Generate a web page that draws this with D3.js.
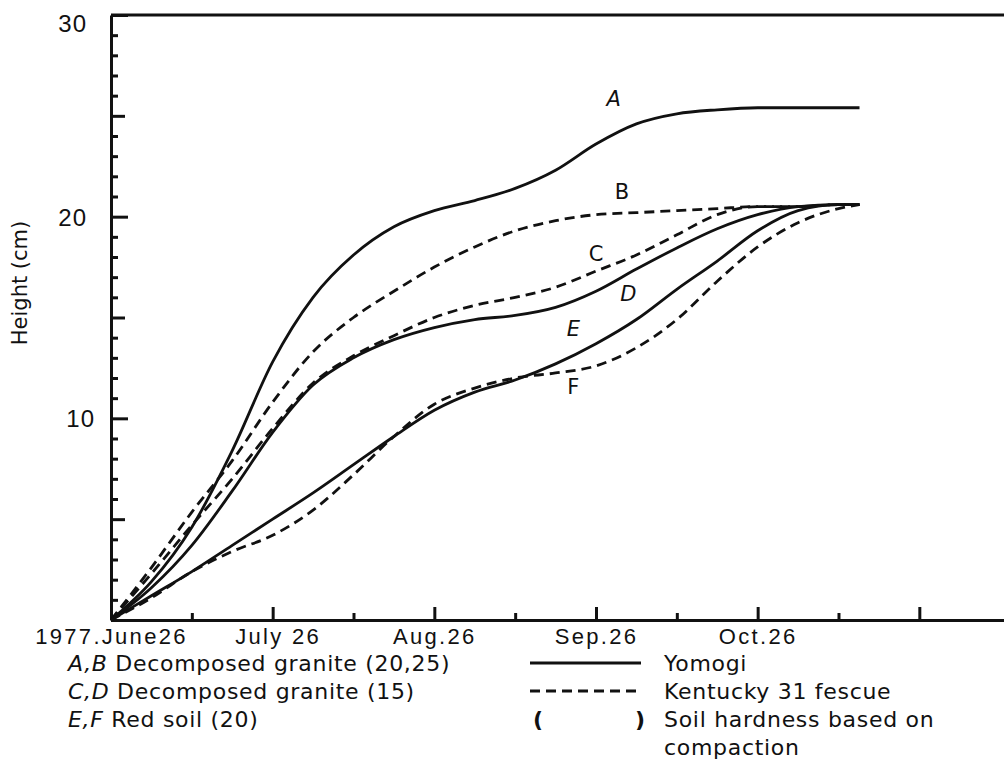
<!DOCTYPE html>
<html>
<head>
<meta charset="utf-8">
<script src="https://cdn.jsdelivr.net/npm/d3@7"></script>
<style>
  body { margin: 0; background: #fff; }
  svg { display: block; font-family: "DejaVu Sans", sans-serif; }
  .axis path, .axis line { stroke: #111; stroke-width: 3; }
  .axis text { fill: #111; font-size: 22px; letter-spacing: 2.3px; }
</style>
</head>
<body>
<script>
// months after 1977 June 26
const months = [0, 0.25, 0.5, 0.75, 1, 1.25, 1.5, 1.75, 2, 2.25, 2.5, 2.75, 3, 3.25, 3.5, 3.75, 4, 4.25, 4.5, 4.63];

// plant height (cm)
const heightA = [0, 1.9, 4.6, 8.4, 12.8, 16.0, 18.1, 19.5, 20.3, 20.8, 21.4, 22.3, 23.6, 24.6, 25.1, 25.3, 25.4, 25.4, 25.4, 25.4];
const heightB = [0, 2.6, 5.35, 7.9, 10.8, 13.3, 15.0, 16.3, 17.5, 18.5, 19.3, 19.8, 20.1, 20.2, 20.3, 20.4, 20.5, 20.5, 20.6, 20.6];
const heightC = [0, 2.3, 4.7, 7.0, 9.5, 11.75, 13.1, 14.1, 15.0, 15.6, 16.0, 16.5, 17.3, 18.1, 19.1, 20.1, 20.5, 20.5, 20.6, 20.6];
const heightD = [0, 1.6, 3.7, 6.4, 9.3, 11.65, 13.0, 13.9, 14.5, 14.9, 15.1, 15.5, 16.3, 17.4, 18.45, 19.4, 20.1, 20.5, 20.6, 20.6];
const heightE = [0, 1.2, 2.4, 3.7, 5.0, 6.3, 7.7, 9.1, 10.4, 11.3, 11.9, 12.7, 13.7, 14.9, 16.4, 17.8, 19.3, 20.3, 20.6, 20.6];
const heightF = [0, 1.1, 2.4, 3.4, 4.2, 5.45, 7.2, 9.1, 10.7, 11.5, 12.0, 12.25, 12.6, 13.5, 14.9, 16.8, 18.5, 19.7, 20.4, 20.6];

const curveNames = ["A", "B", "C", "D", "E", "F"];
const curveDashed = [false, true, true, false, false, true];

const monthLabels = ["1977.June26", "July 26", "Aug.26", "Sep.26", "Oct.26", ""];
const heightLabels = ["", "10", "20", "30"];

const legendSoils = [
  ["A,B", " Decomposed granite (20,25)"],
  ["C,D", " Decomposed granite (15)"],
  ["E,F", " Red soil (20)"]
];
const legendPlants = ["Yomogi", "Kentucky 31 fescue", "Soil hardness based on", "compaction"];

const W = 1004, H = 772;
const svg = d3.select("body").append("svg").attr("width", W).attr("height", H);

const x = d3.scaleLinear().domain([0, 5.53]).range([111, 1005]);
const y = d3.scaleLinear().domain([0, 30]).range([620, 15]);

// top frame line
svg.append("line")
  .attr("x1", x(0)).attr("x2", W)
  .attr("y1", y(30)).attr("y2", y(30))
  .attr("stroke", "#111").attr("stroke-width", 3);

// x axis: minor half-month ticks, then month ticks with labels
svg.append("g").attr("class", "axis")
  .attr("transform", "translate(0," + y(0) + ")")
  .call(d3.axisBottom(x).tickValues([0.5, 1.5, 2.5, 3.5, 4.5])
    .tickSizeInner(-7).tickSizeOuter(0).tickFormat(""));
const gx = svg.append("g").attr("class", "axis")
  .attr("transform", "translate(0," + y(0) + ")")
  .call(d3.axisBottom(x).tickValues([0, 1, 2, 3, 4, 5])
    .tickSizeInner(-13).tickSizeOuter(0).tickPadding(8)
    .tickFormat((d, i) => monthLabels[i]));
gx.selectAll(".tick text").attr("dx", (d) => (d === 1 ? 5 : 0));

// y axis: ticks point inward
const gy = svg.append("g").attr("class", "axis")
  .attr("transform", "translate(" + x(0) + ",0)")
  .call(d3.axisLeft(y).tickValues(d3.range(0, 31))
    .tickSizeOuter(0).tickPadding(18)
    .tickFormat((d) => (d % 10 === 0 ? heightLabels[d / 10] : "")));
gy.selectAll(".tick line")
  .attr("x2", (d) => (d % 10 === 0 ? 17 : d % 5 === 0 ? 14 : 7));
gy.selectAll(".tick text")
  .style("font-size", "24px")
  .style("letter-spacing", "1px")
  .attr("dy", (d) => (d === 30 ? "0.7em" : "0.35em"))
  .attr("dx", (d) => (d === 10 ? 8 : 0));

// y axis title
svg.append("text")
  .attr("transform", "translate(27,283) rotate(-90)")
  .attr("text-anchor", "middle")
  .attr("font-size", 21)
  .attr("fill", "#111")
  .text("Height (cm)");

// growth curves
const series = [heightA, heightB, heightC, heightD, heightE, heightF];
const line = d3.line()
  .x((d, i) => x(months[i]))
  .y((d) => y(d))
  .curve(d3.curveMonotoneX);

svg.append("g").selectAll("path")
  .data(series)
  .join("path")
  .attr("d", line)
  .attr("fill", "none")
  .attr("stroke", "#111")
  .attr("stroke-width", 2.8)
  .attr("stroke-dasharray", (d, i) => (curveDashed[i] ? "10,6" : null));

// curve letters
const letterPos = [[3.11, 25.5, true], [3.16, 20.9, false], [3.0, 17.8, false], [3.2, 15.8, true], [2.86, 14.1, true], [2.86, 11.2, false]];
svg.append("g").selectAll("text")
  .data(curveNames)
  .join("text")
  .attr("x", (d, i) => x(letterPos[i][0]))
  .attr("y", (d, i) => y(letterPos[i][1]))
  .attr("text-anchor", "middle")
  .attr("font-size", 21)
  .attr("font-style", (d, i) => (letterPos[i][2] ? "italic" : "normal"))
  .attr("fill", "#111")
  .text((d) => d);

// legend, left column
const rowY = [671, 699, 727, 755];
const leg = svg.append("g").attr("font-size", 22).attr("fill", "#111")
  .style("letter-spacing", "0.7px");
legendSoils.forEach((s, i) => {
  const t = leg.append("text").attr("x", 68).attr("y", rowY[i]);
  t.append("tspan").attr("font-style", "italic").text(s[0]);
  t.append("tspan").text(s[1]);
});

// legend, right column
leg.append("line")
  .attr("x1", 530).attr("x2", 641).attr("y1", rowY[0] - 8).attr("y2", rowY[0] - 8)
  .attr("stroke", "#111").attr("stroke-width", 2.8);
leg.append("line")
  .attr("x1", 530).attr("x2", 641).attr("y1", rowY[1] - 8).attr("y2", rowY[1] - 8)
  .attr("stroke", "#111").attr("stroke-width", 2.8)
  .attr("stroke-dasharray", "10,6");
leg.append("text").attr("x", 533).attr("y", rowY[2]).attr("font-weight", "bold").text("(");
leg.append("text").attr("x", 635).attr("y", rowY[2]).attr("font-weight", "bold").text(")");
legendPlants.forEach((s, i) => {
  leg.append("text").attr("x", 664).attr("y", rowY[i]).text(s);
});
</script>
</body>
</html>
